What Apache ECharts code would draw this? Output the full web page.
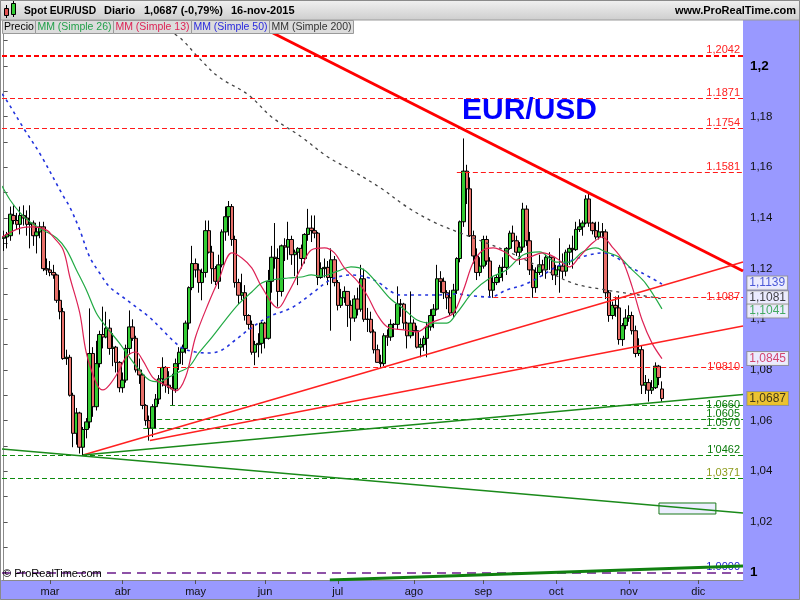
<!DOCTYPE html>
<html><head><meta charset="utf-8">
<script src="https://cdn.jsdelivr.net/npm/echarts@6/dist/echarts.min.js"></script>
<style>html,body{margin:0;padding:0;background:#fff}#c{width:800px;height:600px}</style>
</head><body><div id="c"></div>
<script>
// ---------- DATA ----------
// daily candles [open, high, low, close]
const feb = [
[1.1320,1.1350,1.1270,1.1325],[1.1325,1.1345,1.1280,1.1335],[1.1330,1.1445,1.1310,1.1415],[1.1410,1.1450,1.1375,1.1390],
[1.1390,1.1420,1.1355,1.1375],[1.1375,1.1445,1.1335,1.1410],[1.1410,1.1450,1.1370,1.1400],[1.1400,1.1430,1.1330,1.1375],
[1.1375,1.1450,1.1280,1.1380],[1.1380,1.1390,1.1290,1.1330],[1.1330,1.1365,1.1260,1.1345],[1.1345,1.1385,1.1320,1.1365],
[1.1365,1.1385,1.1190,1.1200],[1.1200,1.1240,1.1175,1.1195]];
const mar = [
[1.1195,1.1230,1.1170,1.1185],[1.1185,1.1215,1.1160,1.1175],[1.1175,1.1180,1.1065,1.1075],[1.1075,1.1115,1.1000,1.1030],
[1.1030,1.1045,1.0840,1.0845],[1.0845,1.0880,1.0820,1.0850],[1.0850,1.0860,1.0695,1.0700],[1.0700,1.0710,1.0495,1.0550],
[1.0550,1.0650,1.0505,1.0630],[1.0630,1.0635,1.0470,1.0495],[1.0495,1.0575,1.0462,1.0565],[1.0565,1.0610,1.0530,1.0595],
[1.0595,1.1043,1.0570,1.0865],[1.0865,1.0890,1.0615,1.0655],[1.0655,1.0915,1.0640,1.0825],[1.0825,1.0955,1.0810,1.0940],
[1.0940,1.1050,1.0885,1.0930],[1.0930,1.1030,1.0925,1.0965],[1.0965,1.1000,1.0860,1.0885],[1.0885,1.0945,1.0815,1.0890],
[1.0890,1.0895,1.0790,1.0830],[1.0830,1.0835,1.0712,1.0730]];
const apr = [
[1.0730,1.0790,1.0710,1.0760],[1.0760,1.0900,1.0750,1.0885],[1.0885,1.1035,1.0860,1.0970],[1.0970,1.1000,1.0915,1.0925],
[1.0925,1.0935,1.0790,1.0800],[1.0800,1.0845,1.0745,1.0780],[1.0780,1.0785,1.0645,1.0660],[1.0660,1.0665,1.0580,1.0600],
[1.0600,1.0620,1.0521,1.0570],[1.0570,1.0665,1.0535,1.0655],[1.0655,1.0705,1.0570,1.0685],[1.0685,1.0780,1.0665,1.0765],
[1.0765,1.0850,1.0735,1.0810],[1.0810,1.0815,1.0710,1.0740],[1.0740,1.0795,1.0705,1.0730],[1.0730,1.0785,1.0660,1.0725],
[1.0725,1.0845,1.0710,1.0825],[1.0825,1.0890,1.0800,1.0870],[1.0870,1.0900,1.0820,1.0885],[1.0885,1.0995,1.0865,1.0985],
[1.0985,1.1130,1.0960,1.1125],[1.1125,1.1290,1.1115,1.1220]];
const may = [
[1.1220,1.1240,1.1165,1.1195],[1.1195,1.1220,1.1105,1.1145],[1.1145,1.1200,1.1075,1.1185],[1.1185,1.1390,1.1165,1.1350],
[1.1350,1.1390,1.1260,1.1265],[1.1265,1.1290,1.1140,1.1200],[1.1200,1.1210,1.1135,1.1150],[1.1150,1.1255,1.1120,1.1215],
[1.1215,1.1355,1.1205,1.1345],[1.1345,1.1445,1.1310,1.1405],[1.1405,1.1467,1.1330,1.1445],[1.1445,1.1455,1.1290,1.1315],
[1.1315,1.1330,1.1125,1.1145],[1.1145,1.1160,1.1060,1.1095],[1.1095,1.1180,1.1075,1.1105],[1.1105,1.1135,1.0995,1.1015],
[1.1015,1.1020,1.0960,1.0980],[1.0980,1.0995,1.0860,1.0870],[1.0870,1.0915,1.0819,1.0900],[1.0900,1.0945,1.0850,1.0905],
[1.0905,1.0990,1.0865,1.0985]];
const jun = [
[1.0985,1.0990,1.0885,1.0925],[1.0925,1.1195,1.0920,1.1150],[1.1150,1.1290,1.1105,1.1245],[1.1245,1.1380,1.1200,1.1240],
[1.1240,1.1280,1.1050,1.1110],[1.1110,1.1295,1.1090,1.1290],[1.1290,1.1320,1.1230,1.1285],[1.1285,1.1385,1.1235,1.1315],
[1.1315,1.1330,1.1215,1.1255],[1.1255,1.1275,1.1170,1.1265],[1.1265,1.1285,1.1135,1.1280],[1.1280,1.1295,1.1200,1.1240],
[1.1240,1.1340,1.1220,1.1335],[1.1335,1.1436,1.1310,1.1360],[1.1360,1.1410,1.1305,1.1350],[1.1350,1.1410,1.1320,1.1340],
[1.1340,1.1345,1.1135,1.1165],[1.1165,1.1225,1.1160,1.1200],[1.1200,1.1240,1.1165,1.1205],[1.1205,1.1230,1.1135,1.1165],
[1.1165,1.1280,1.0955,1.1235],[1.1235,1.1250,1.1130,1.1145]];
const jul = [
[1.1145,1.1155,1.1035,1.1055],[1.1055,1.1120,1.1045,1.1085],[1.1085,1.1130,1.1065,1.1110],[1.1110,1.1110,1.0970,1.1055],
[1.1055,1.1075,1.0915,1.1005],[1.1005,1.1095,1.0990,1.1080],[1.1080,1.1125,1.1015,1.1040],[1.1040,1.1215,1.1030,1.1160],
[1.1160,1.1200,1.0990,1.1000],[1.1000,1.1045,1.0950,1.1000],[1.1000,1.1030,1.0945,1.0950],[1.0950,1.0960,1.0865,1.0880],
[1.0880,1.0900,1.0830,1.0830],[1.0830,1.0860,1.0808,1.0825],[1.0825,1.0945,1.0815,1.0935],[1.0935,1.0960,1.0895,1.0930],
[1.0930,1.1000,1.0915,1.0980],[1.0980,1.0985,1.0930,1.0980],[1.0980,1.1130,1.0960,1.1060],[1.1060,1.1080,1.1010,1.1060],
[1.1060,1.1065,1.0960,1.0985],[1.0985,1.0990,1.0885,1.0935],[1.0935,1.1110,1.0925,1.0985]];
const aug = [
[1.0985,1.1000,1.0935,1.0955],[1.0955,1.0975,1.0885,1.0890],[1.0890,1.0925,1.0850,1.0900],[1.0900,1.0935,1.0875,1.0925],
[1.0925,1.0990,1.0850,1.0970],[1.0970,1.1040,1.0955,1.1015],[1.1015,1.1060,1.0965,1.1040],[1.1040,1.1215,1.1035,1.1160],
[1.1160,1.1190,1.1105,1.1150],[1.1150,1.1165,1.1080,1.1105],[1.1105,1.1115,1.1040,1.1085],[1.1085,1.1115,1.1015,1.1025],
[1.1025,1.1140,1.1005,1.1115],[1.1115,1.1245,1.1100,1.1240],[1.1240,1.1390,1.1225,1.1385],[1.1385,1.1714,1.1365,1.1585],
[1.1585,1.1610,1.1455,1.1515],[1.1515,1.1560,1.1325,1.1330],[1.1330,1.1350,1.1220,1.1250],[1.1250,1.1280,1.1155,1.1185],
[1.1185,1.1245,1.1170,1.1210]];
const sep = [
[1.1210,1.1330,1.1200,1.1315],[1.1315,1.1330,1.1215,1.1230],[1.1230,1.1245,1.1085,1.1115],[1.1115,1.1170,1.1085,1.1145],
[1.1145,1.1175,1.1135,1.1165],[1.1165,1.1215,1.1145,1.1205],[1.1205,1.1245,1.1150,1.1205],[1.1205,1.1285,1.1175,1.1280],
[1.1280,1.1350,1.1275,1.1340],[1.1340,1.1370,1.1305,1.1310],[1.1310,1.1330,1.1250,1.1265],[1.1265,1.1305,1.1215,1.1285],
[1.1285,1.1460,1.1270,1.1435],[1.1435,1.1450,1.1290,1.1310],[1.1310,1.1345,1.1175,1.1195],[1.1195,1.1215,1.1085,1.1125],
[1.1125,1.1205,1.1105,1.1185],[1.1185,1.1255,1.1175,1.1215],[1.1215,1.1235,1.1170,1.1195],[1.1195,1.1255,1.1160,1.1245],
[1.1245,1.1265,1.1195,1.1245],[1.1245,1.1245,1.1155,1.1175]];
const oct = [
[1.1175,1.1215,1.1135,1.1195],[1.1195,1.1320,1.1105,1.1210],[1.1210,1.1260,1.1160,1.1190],[1.1190,1.1275,1.1170,1.1265],
[1.1265,1.1295,1.1215,1.1280],[1.1280,1.1330,1.1200,1.1275],[1.1275,1.1385,1.1270,1.1355],[1.1355,1.1395,1.1345,1.1365],
[1.1365,1.1390,1.1330,1.1380],[1.1380,1.1490,1.1375,1.1475],[1.1475,1.1495,1.1365,1.1380],[1.1380,1.1385,1.1335,1.1350],
[1.1350,1.1385,1.1315,1.1325],[1.1325,1.1385,1.1315,1.1345],[1.1345,1.1380,1.1320,1.1345],[1.1345,1.1355,1.1080,1.1105],
[1.1105,1.1115,1.0990,1.1015],[1.1015,1.1070,1.1000,1.1055],[1.1055,1.1090,1.1010,1.1045],[1.1045,1.1095,1.0900,1.0920],
[1.0920,1.0985,1.0895,1.0975],[1.0975,1.1040,1.0960,1.1005]];
const nov = [
[1.1005,1.1055,1.0990,1.1015],[1.1015,1.1030,1.0940,1.0955],[1.0955,1.0975,1.0850,1.0865],[1.0865,1.0925,1.0855,1.0880],
[1.0880,1.0895,1.0705,1.0740],[1.0740,1.0780,1.0705,1.0750],[1.0750,1.0765,1.0675,1.0720],[1.0720,1.0760,1.0705,1.0730],
[1.0730,1.0830,1.0725,1.0815],[1.0815,1.0820,1.0740,1.0770],[1.0725,1.0755,1.0675,1.0687]];

// moving averages: [day index, value]
const ma13 = [[-0.5,1.1325],[5,1.1360],[9,1.1365],[13,1.1352],[15,1.1325],[18,1.1274],[20,1.1167],[23,1.1025],[25,1.0867],[28,1.0749],[30,1.0721],[32,1.0741],[35,1.0800],[37,1.0851],[40,1.0871],[42,1.0839],[45,1.0772],[47,1.0753],[50,1.0733],[52,1.0717],[55,1.0772],[58,1.0930],[62,1.1066],[65,1.1155],[69,1.1262],[72,1.1242],[75,1.1203],[78,1.1128],[83,1.1045],[86,1.1104],[90,1.1205],[93,1.1274],[97,1.1282],[100,1.1262],[103,1.1203],[107,1.1150],[110,1.1092],[113,1.1017],[116,1.0970],[121,1.0958],[125,1.0950],[129,1.0985],[133,1.1005],[136,1.1025],[139,1.1116],[142,1.1226],[145,1.1274],[148,1.1282],[152,1.1262],[155,1.1234],[159,1.1246],[163,1.1262],[167,1.1242],[171,1.1207],[174,1.1246],[178,1.1301],[181,1.1325],[184,1.1285],[187,1.1234],[190,1.1128],[193,1.0997],[196,1.0906],[199,1.0845]];
const ma26 = [[-0.5,1.1526],[2,1.1470],[5,1.1420],[8,1.1384],[12,1.1352],[16,1.1321],[19,1.1274],[22,1.1195],[25,1.1116],[28,1.1025],[31,1.0970],[35,1.0906],[38,1.0851],[41,1.0800],[44,1.0760],[47,1.0753],[50,1.0772],[53,1.0792],[56,1.0812],[59,1.0867],[63,1.0930],[67,1.0997],[71,1.1060],[75,1.1108],[78,1.1143],[81,1.1155],[86,1.1163],[90,1.1167],[93,1.1175],[96,1.1170],[101,1.1190],[105,1.1207],[109,1.1195],[113,1.1140],[117,1.1080],[121,1.1040],[125,1.0997],[129,1.0985],[134,1.0985],[137,1.1025],[142,1.1110],[147,1.1163],[152,1.1195],[157,1.1254],[162,1.1266],[167,1.1226],[171,1.1226],[175,1.1266],[179,1.1282],[182,1.1266],[186,1.1246],[190,1.1195],[194,1.1143],[199,1.1041]];
const ma50 = [[-0.5,1.1890],[1,1.1862],[6,1.1755],[11,1.1653],[18,1.1487],[20,1.1443],[23,1.1353],[26,1.1246],[29,1.1183],[32,1.1128],[36,1.1088],[40,1.1049],[44,1.1009],[48,1.0958],[51,1.0918],[54,1.0887],[58,1.0871],[62,1.0867],[66,1.0879],[70,1.0918],[74,1.0958],[80,1.1009],[87,1.1045],[93,1.1100],[98,1.1150],[101,1.1167],[105,1.1175],[110,1.1165],[114,1.1140],[117,1.1110],[120,1.1096],[125,1.1096],[131,1.1096],[137,1.1100],[142,1.1092],[147,1.1088],[152,1.1116],[157,1.1135],[162,1.1167],[167,1.1207],[172,1.1234],[177,1.1254],[181,1.1262],[185,1.1246],[189,1.1207],[193,1.1183],[199,1.1139]];
const ma200 = [[50,1.2142],[54,1.2103],[59,1.2032],[65,1.1957],[74,1.1886],[81,1.1799],[90,1.1720],[98,1.1641],[106,1.1582],[114,1.1518],[122,1.1443],[130,1.1384],[138,1.1341],[146,1.1301],[152,1.1270],[162,1.1207],[172,1.1143],[182,1.1116],[192,1.1096],[199,1.1081]];

// drawn trend lines: [startIndex, startValue, endIndex, endValue]
const trendMain   = [81.4, 1.21303, 223.5, 1.11907];
const trendRedUp  = [24.0, 1.04643, 223.5, 1.12262];
const trendRedLow = [44.2, 1.05215, 223.5, 1.09735];
const trendGreenUp   = [24.0, 1.04643, 223.5, 1.07031];
const trendGreenDown = [-0.5, 1.04880, 223.5, 1.02353];
const trendGreenBase = [98.6, 0.99708, 223.5, 1.00261];
const boxArea = [198.1, 1.02748, 215.3, 1.02313];

// horizontal levels
const levelValues = [1.2042, 1.1871, 1.1754, 1.1581, 1.1087, 1.0810, 1.0660, 1.0605, 1.0570, 1.0462, 1.0371, 1.0000];
const levelLabels = ['1,2042','1.1871','1.1754','1.1581','1.1087',"1'0810",'1.0660','1.0605','1.0570',"1'0462",'1,0371','1.0000'];
const levelStart  = [-0.5, -0.5, -0.5, 137, 148, 46.4, 50.3, 46.4, 42.2, -0.5, -0.5, -0.5];
const levelKind   = ['thick','red','red','red','red','red','green','green','green','green','olive','purple'];

// last values shown on the price scale
const badgeValues = [1.1139, 1.1081, 1.1041, 1.0845, 1.0687];
const badgeKind   = ['ma50','ma200','ma26','ma13','price'];

const yLabelValues = [1.00,1.02,1.04,1.06,1.08,1.10,1.12,1.14,1.16,1.18,1.20];
const yTickValues = [1.00,1.01,1.02,1.03,1.04,1.05,1.06,1.07,1.08,1.09,1.10,1.11,1.12,1.13,1.14,1.15,1.16,1.17,1.18,1.19,1.20,1.21];
const monthNames = ['ene','feb','mar','abr','may','jun','jul','ago','sep','oct','nov','dic'];

// ---------- BUILD ----------
const candles = [].concat(feb, mar, apr, may, jun, jul, aug, sep, oct, nov);
const dates = [];
for (let d = new Date(Date.UTC(2015,1,10)); dates.length < 224; d.setUTCDate(d.getUTCDate()+1)) {
  const wd = d.getUTCDay();
  if (wd !== 0 && wd !== 6) dates.push(d.toISOString().slice(0,10));
}
const isMonthStart = (i) => i > 0 && dates[i].slice(5,7) !== dates[i-1].slice(5,7);
const kData = candles.map(r => [r[0], r[3], r[2], r[1]]);

const Y_MIN = 0.99708, Y_MAX = 1.21816, X_MIN = -0.5, X_MAX = 223.5;
const FONT = 'Liberation Sans, Arial, sans-serif';

const levelStyle = {
  thick:  {color:'#ff0000', width:2.2, label:'#ff2020'},
  red:    {color:'#ff1a1a', width:1,   label:'#ff2020'},
  green:  {color:'#0d8a0d', width:1,   label:'#0a7a0a'},
  olive:  {color:'#0d8a0d', width:1,   label:'#8e9c1c'},
  purple: {color:'#6a1a8a', width:1.5, label:'#1a1acc'}
};
// labels that sit on the line rather than above it
const levelOnLine = [false,false,false,false,true,true,true,false,false,false,false,false];
const badgeStyle = {
  ma50:  {color:'#2233cc', bg:'#ffffff', dy:-1},
  ma200: {color:'#111111', bg:'#ffffff', dy:-1},
  ma26:  {color:'#1a9a3a', bg:'#ffffff', dy:2},
  ma13:  {color:'#cc1a4a', bg:'#ffffff', dy:0},
  price: {color:'#111111', bg:'#ffcc00', dy:0}
};

function seg(t){ return [[t[0], t[1]], [t[2], t[3]]]; }
function lineSeries(name, data, color, width, type, smooth, z){
  return {name, type:'line', xAxisIndex:1, yAxisIndex:0, data, showSymbol:false, symbol:'none',
    smooth: smooth ? 0.35 : false, lineStyle:{color, width, type: type || 'solid'}, z: z || 4, silent:true};
}

const markLines = levelValues.map((v, i) => {
  const st = levelStyle[levelKind[i]];
  return [
    {coord:[levelStart[i], v], lineStyle:{color:st.color, width:st.width, type: levelKind[i]==='purple' ? [9,6] : [5,3]},
     label:{show:true, position: levelOnLine[i] ? 'insideEnd' : 'insideEndTop', formatter: levelLabels[i], color: st.label,
       fontSize:11, fontFamily:FONT, distance: levelOnLine[i] ? 3 : [3,0]}},
    {coord:[X_MAX, v]}
  ];
});

const option = {
  animation:false,
  backgroundColor:'#9999ff',
  textStyle:{fontFamily:FONT},
  grid:{left:2, right:57, top:20, bottom:20, show:true, backgroundColor:'#ffffff', borderWidth:0},
  xAxis:[
    {type:'category', data:dates, boundaryGap:true,
     axisLine:{show:true, lineStyle:{color:'#8a8a8a', width:1}},
     axisTick:{show:true, alignWithLabel:true, interval:(i)=>isMonthStart(i), length:4, lineStyle:{color:'#555'}},
     axisLabel:{interval:(i)=>isMonthStart(i), formatter:(v)=>monthNames[+v.slice(5,7)-1], color:'#111', fontSize:11, margin:6},
     splitLine:{show:false}},
    {type:'value', min:X_MIN, max:X_MAX, show:false}
  ],
  yAxis:{type:'value', position:'right', min:Y_MIN, max:Y_MAX,
    axisLine:{show:true, lineStyle:{color:'#8a8a8a'}},
    axisTick:{show:true, customValues:yTickValues, length:4, lineStyle:{color:'#555'}},
    axisLabel:{customValues:yLabelValues, margin:7, color:'#111', fontSize:11.5,
      formatter:(v)=>{ const s = String(parseFloat(v.toFixed(2))).replace('.', ',');
        return (Math.abs(v-1)<1e-9 || Math.abs(v-1.2)<1e-9) ? '{b|'+s+'}' : s; },
      rich:{b:{fontWeight:'bold', fontSize:13.5, color:'#000'}}},
    splitLine:{show:false}},
  series:[
    {name:'levels', type:'line', xAxisIndex:1, data:[], z:1, silent:true,
     markLine:{silent:true, symbol:['none','none'], animation:false, data:markLines},
     markArea:{silent:true, itemStyle:{color:'#eceefe', borderColor:'#1a7a1a', borderWidth:1},
       data:[[{coord:[boxArea[0], boxArea[1]]},{coord:[boxArea[2], boxArea[3]]}]]}},
    {name:'Precio', type:'candlestick', xAxisIndex:0, yAxisIndex:0, data:kData, barWidth:4, z:2, silent:true,
     itemStyle:{color:'#33cc33', color0:'#e8706a', borderColor:'#000', borderColor0:'#000', borderWidth:1}},
    lineSeries('MM200', ma200, '#444444', 1.3, [3,4], true, 3),
    lineSeries('MM50', ma50, '#2233dd', 1.6, [3,4], true, 3),
    lineSeries('MM26', ma26, '#22aa44', 1.2, 'solid', true, 3),
    lineSeries('MM13', ma13, '#dd2255', 1.2, 'solid', true, 3),
    lineSeries('t1', seg(trendMain), '#ff0000', 3, 'solid', false, 5),
    lineSeries('t2', seg(trendRedUp), '#ff2020', 1.5, 'solid', false, 5),
    lineSeries('t3', seg(trendRedLow), '#ff2020', 1.5, 'solid', false, 5),
    lineSeries('t4', seg(trendGreenUp), '#1a8a1a', 1.5, 'solid', false, 5),
    lineSeries('t5', seg(trendGreenDown), '#1a8a1a', 1.5, 'solid', false, 5),
    lineSeries('t6', seg(trendGreenBase), '#108010', 3, 'solid', false, 5),
    {name:'badges', type:'scatter', xAxisIndex:1, yAxisIndex:0, symbolSize:1, silent:true, z:10,
     itemStyle:{color:'rgba(0,0,0,0)'},
     data: badgeValues.map((v,i)=>{ const st = badgeStyle[badgeKind[i]];
       return {value:[X_MAX-0.05, v], label:{show:true, position:'right', distance:4, offset:[0, st.dy],
         formatter: v.toFixed(4).replace('.', ','), color:st.color, backgroundColor:st.bg,
         borderColor:'#8c8c8c', borderWidth:1, padding:[1,2,0,2], fontSize:12, lineHeight:12, fontFamily:FONT}}; })}
  ],
  graphic:[
    {type:'rect', z:100, shape:{x:0, y:20, width:2, height:560}, style:{fill:'#ffffff'}},
    {type:'line', z:100, shape:{x1:0.5, y1:20, x2:0.5, y2:580}, style:{stroke:'#999', lineWidth:1}},
    {type:'rect', z:100, shape:{x:0, y:0, width:800, height:20},
     style:{fill:new echarts.graphic.LinearGradient(0,0,0,1,[{offset:0,color:'#f2f2f2'},{offset:1,color:'#cdcdcd'}]), stroke:'#9a9a9a', lineWidth:1}},
    // header icon
    {type:'line', z:101, shape:{x1:6.5,y1:5,x2:6.5,y2:18}, style:{stroke:'#000',lineWidth:1}},
    {type:'rect', z:102, shape:{x:4.5,y:8.5,width:4,height:7}, style:{fill:'#e05050',stroke:'#000',lineWidth:1}},
    {type:'line', z:101, shape:{x1:13.5,y1:1,x2:13.5,y2:17}, style:{stroke:'#000',lineWidth:1}},
    {type:'rect', z:102, shape:{x:11.5,y:3.5,width:4,height:11}, style:{fill:'#33cc33',stroke:'#000',lineWidth:1}},
    {type:'text', z:101, x:24, y:11, style:{text:'Spot EUR/USD', font:'bold 10.3px '+FONT, fill:'#000', verticalAlign:'middle'}},
    {type:'text', z:101, x:104, y:11, style:{text:'Diario', font:'bold 11px '+FONT, fill:'#000', verticalAlign:'middle'}},
    {type:'text', z:101, x:144, y:11, style:{text:'1,0687 (-0,79%)', font:'bold 11px '+FONT, fill:'#000', verticalAlign:'middle'}},
    {type:'text', z:101, x:231, y:11, style:{text:'16-nov-2015', font:'bold 11px '+FONT, fill:'#000', verticalAlign:'middle'}},
    {type:'text', z:101, x:796, y:11, style:{text:'www.ProRealTime.com', font:'bold 11px '+FONT, fill:'#000', align:'right', verticalAlign:'middle'}},
    // legend boxes
    {type:'rect', z:100, shape:{x:2.5,y:20.5,width:33,height:13}, style:{fill:'#dcdcdc',stroke:'#9a9a9a',lineWidth:1}},
    {type:'rect', z:100, shape:{x:35.5,y:20.5,width:78,height:13}, style:{fill:'#dcdcdc',stroke:'#9a9a9a',lineWidth:1}},
    {type:'rect', z:100, shape:{x:113.5,y:20.5,width:78,height:13}, style:{fill:'#dcdcdc',stroke:'#9a9a9a',lineWidth:1}},
    {type:'rect', z:100, shape:{x:191.5,y:20.5,width:78,height:13}, style:{fill:'#dcdcdc',stroke:'#9a9a9a',lineWidth:1}},
    {type:'rect', z:100, shape:{x:269.5,y:20.5,width:84,height:13}, style:{fill:'#dcdcdc',stroke:'#9a9a9a',lineWidth:1}},
    {type:'text', z:101, x:19, y:27.5, style:{text:'Precio', font:'10.5px '+FONT, fill:'#000', align:'center', verticalAlign:'middle'}},
    {type:'text', z:101, x:74.5, y:27.5, style:{text:'MM (Simple 26)', font:'10.5px '+FONT, fill:'#22a04a', align:'center', verticalAlign:'middle'}},
    {type:'text', z:101, x:152.5, y:27.5, style:{text:'MM (Simple 13)', font:'10.5px '+FONT, fill:'#dd2255', align:'center', verticalAlign:'middle'}},
    {type:'text', z:101, x:230.5, y:27.5, style:{text:'MM (Simple 50)', font:'10.5px '+FONT, fill:'#2a2add', align:'center', verticalAlign:'middle'}},
    {type:'text', z:101, x:311.5, y:27.5, style:{text:'MM (Simple 200)', font:'10.5px '+FONT, fill:'#333333', align:'center', verticalAlign:'middle'}},
    // title
    {type:'text', z:101, x:462, y:111, style:{text:'EUR/USD', font:'bold 30px '+FONT, fill:'#0000ff', verticalAlign:'middle'}},
    {type:'text', z:101, x:3, y:574, style:{text:'© ProRealTime.com', font:'11px '+FONT, fill:'#000', verticalAlign:'middle'}},
    {type:'rect', z:120, shape:{x:0.5,y:0.5,width:799,height:599}, style:{fill:'none', stroke:'#8a8a8a', lineWidth:1}}
  ]
};
const chart = echarts.init(document.getElementById('c'), null, {renderer:'canvas', width:800, height:600});
chart.setOption(option);
</script></body></html>
